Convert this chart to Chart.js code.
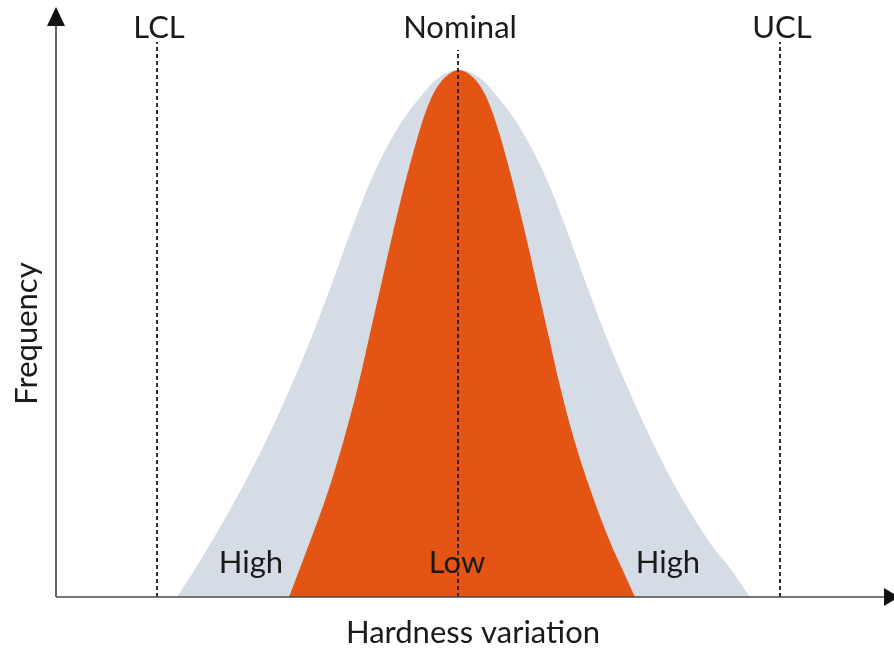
<!DOCTYPE html>
<html><head><meta charset="utf-8">
<script src="https://cdn.jsdelivr.net/npm/chart.js@4.4.1/dist/chart.umd.min.js"></script>
<style>html,body{margin:0;padding:0;background:#fff}#wrap{width:894px;height:648px;position:relative}</style>
</head><body><div id="wrap"><canvas id="c"></canvas></div>
<script>
// Hardness variation (nominal = 0) and frequency (peak = 100)
const curveY = [0, 5, 10, 20, 30, 40, 50, 60, 70, 80, 90, 95, 98, 99.5, 100, 99.5, 98, 95, 90, 80, 70, 60, 50, 40, 30, 20, 10, 5, 0];
const grayX = [-2.81, -2.64, -2.48, -2.18, -1.91, -1.67, -1.45, -1.25, -1.06, -0.85, -0.57, -0.37, -0.23, -0.11, 0.01,
               0.13, 0.25, 0.39, 0.59, 0.87, 1.08, 1.27, 1.47, 1.69, 1.93, 2.20, 2.53, 2.74, 2.92];
const orangeX = [-1.69, -1.59, -1.49, -1.30, -1.14, -1.00, -0.88, -0.76, -0.64, -0.51, -0.36, -0.26, -0.16, -0.07, 0.01,
                 0.09, 0.18, 0.28, 0.38, 0.53, 0.66, 0.78, 0.90, 1.02, 1.16, 1.33, 1.53, 1.65, 1.77];
const limitNames = ['LCL', 'Nominal', 'UCL'];
const limitX = [-3.01, 0, 3.22];
const limitTop = [105.3, 103.8, 105.3];
const limitLabelY = 108;
const spreadLabels = ['High', 'Low', 'High'];
const spreadLabelX = [-2.07, -0.01, 2.10];
const spreadLabelY = 6.5;
const xTitle = 'Hardness variation';
const yTitle = 'Frequency';

const FONT = 'Lato';
const FSIZE = 31;
const TEXT = '#1a1a1a';

function pts(xs, ys){ return xs.map((v,i)=>({x:v, y:ys[i]})); }

const limitSets = limitX.map((lx,i)=>({
  label: limitNames[i],
  data: [{x:lx, y:0}, {x:lx, y:limitTop[i]}],
  borderColor: '#262626', borderWidth: 1.9, borderDash: [4,3],
  pointRadius: 0, fill: false, tension: 0, clip: false, order: 0
}));

const overlay = {
  id: 'overlay',
  afterDatasetsDraw(chart){
    const {ctx, chartArea, scales:{x, y}} = chart;
    const x0 = chartArea.left, y0 = chartArea.bottom;
    ctx.save();
    ctx.strokeStyle = '#4a4a4a'; ctx.fillStyle = '#111'; ctx.lineWidth = 1.7;
    ctx.beginPath(); ctx.moveTo(x0, y0); ctx.lineTo(x0, chartArea.top - 50); ctx.stroke();
    ctx.beginPath(); ctx.moveTo(x0, chartArea.top - 63); ctx.lineTo(x0 - 9, chartArea.top - 44); ctx.lineTo(x0 + 9, chartArea.top - 44); ctx.closePath(); ctx.fill();
    ctx.beginPath(); ctx.moveTo(x0, y0); ctx.lineTo(chartArea.right - 4, y0); ctx.stroke();
    ctx.beginPath(); ctx.moveTo(chartArea.right + 9, y0); ctx.lineTo(chartArea.right - 6, y0 - 9); ctx.lineTo(chartArea.right - 6, y0 + 9); ctx.closePath(); ctx.fill();
    ctx.font = FSIZE + 'px ' + FONT; ctx.fillStyle = TEXT; ctx.textAlign = 'center'; ctx.textBaseline = 'middle';
    limitNames.forEach((n,i)=>ctx.fillText(n, x.getPixelForValue(limitX[i]) + 2, y.getPixelForValue(limitLabelY)));
    spreadLabels.forEach((n,i)=>ctx.fillText(n, x.getPixelForValue(spreadLabelX[i]), y.getPixelForValue(spreadLabelY)));
    ctx.restore();
  }
};

function draw(){
  new Chart(document.getElementById('c'), {
    type: 'line',
    data: {
      datasets: [
        ...limitSets,
        { label: 'Low variation', data: pts(orangeX, curveY), borderWidth: 0, borderColor: 'rgba(0,0,0,0)',
          backgroundColor: '#E45414', fill: 'origin', pointRadius: 0, cubicInterpolationMode: 'monotone', order: 1 },
        { label: 'High variation', data: pts(grayX, curveY), borderWidth: 0, borderColor: 'rgba(0,0,0,0)',
          backgroundColor: '#D5DCE5', fill: 'origin', pointRadius: 0, cubicInterpolationMode: 'monotone', order: 2 }
      ]
    },
    options: {
      responsive: true, maintainAspectRatio: false, animation: false,
      layout: { padding: { top: 70, right: 4, bottom: 0, left: 0 } },
      plugins: { legend: { display: false }, tooltip: { enabled: false } },
      scales: {
        x: { type: 'linear', min: -4.02, max: 4.32,
             grid: { display: false, drawTicks: false }, border: { display: false }, ticks: { display: false },
             title: { display: true, text: xTitle, color: TEXT, font: { family: FONT, size: FSIZE, lineHeight: 1 }, padding: { top: 20, bottom: 0 } } },
        y: { type: 'linear', min: 0, max: 100,
             grid: { display: false, drawTicks: false }, border: { display: false }, ticks: { display: false },
             title: { display: true, text: yTitle, color: TEXT, font: { family: FONT, size: FSIZE, lineHeight: 1 }, padding: { top: 11, bottom: 14 } } }
      }
    },
    plugins: [overlay]
  });
}
if (document.fonts && document.fonts.load) {
  document.fonts.load(FSIZE + 'px ' + FONT).then(draw, draw);
} else draw();
</script>
</body></html>
